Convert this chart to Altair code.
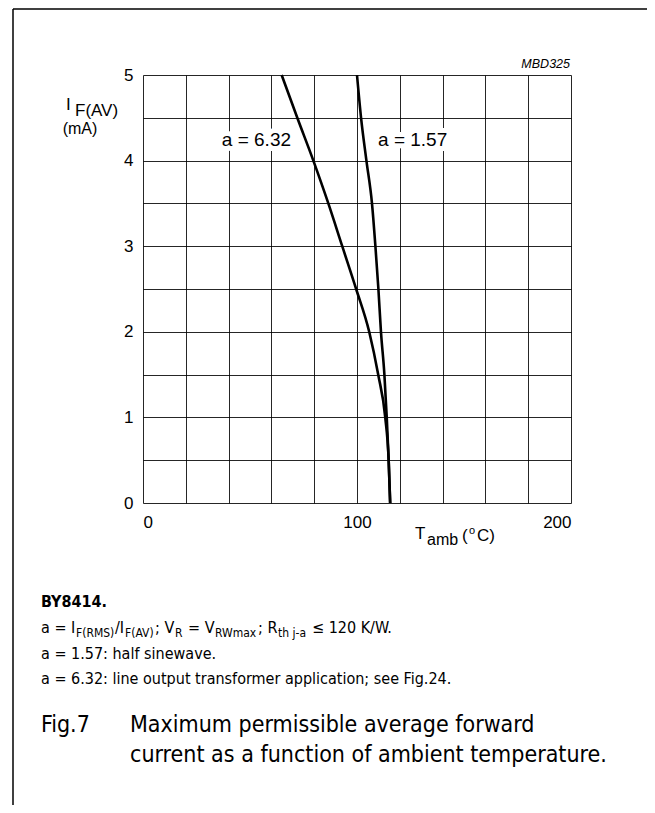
import altair as alt
import pandas as pd

# ---- data ----
current_ma = [5, 4.5, 4, 3.5, 3, 2.5, 2, 1.5, 1, 0.5, 0]
tamb_a157 = [100, 101.9, 104.4, 107, 108.6, 110, 111.2, 112.8, 113.9, 114.8, 115.5]
tamb_a632 = [64.8, 72.1, 79.6, 86.6, 93.1, 99.6, 105.7, 109.9, 113.2, 114.8, 115.5]
series_names = ["a = 1.57", "a = 6.32"]
label_pos_t = [126, 53]
label_pos_i = [4.24, 4.24]
x_grid = [0, 20, 40, 60, 80, 100, 120, 140, 160, 180, 200]
y_grid = [0, 0.5, 1, 1.5, 2, 2.5, 3, 3.5, 4, 4.5, 5]

rows = []
for name, ts in zip(series_names, [tamb_a157, tamb_a632]):
    for t, i in zip(ts, current_ma):
        rows.append({"series": name, "t": t, "i": i})
curves = pd.DataFrame(rows)
labels = pd.DataFrame({"series": series_names, "t": label_pos_t, "i": label_pos_i})

W, H = 428, 428
OX, OY = 143, 75  # page position of plot origin
SANS = "Liberation Sans, Arial, Helvetica, sans-serif"
NARROW = "DejaVu Sans Condensed, Liberation Sans Narrow, Arial Narrow, sans-serif"
one = pd.DataFrame({"k": [0]})

xs = alt.Scale(domain=[0, 200], nice=False, zero=False)
ys = alt.Scale(domain=[0, 5], nice=False, zero=False)

base = alt.Chart(curves).encode(
    x=alt.X("t:Q", scale=xs, title=None,
            axis=alt.Axis(values=x_grid, grid=True, gridColor="#000", gridWidth=1, gridOpacity=0.85,
                          ticks=False, domain=False, labelFont=SANS, labelFontSize=17,
                          labelColor="#000", labelPadding=11,
                          labelExpr="datum.value % 100 == 0 ? '' + datum.value : ''")),
    y=alt.Y("i:Q", scale=ys, title=None,
            axis=alt.Axis(values=y_grid, grid=True, gridColor="#000", gridWidth=1, gridOpacity=0.85,
                          ticks=False, domain=False, labelFont=SANS, labelFontSize=17,
                          labelColor="#000", labelPadding=10,
                          labelExpr="datum.value % 1 == 0 ? '' + datum.value : ''")),
)

lines = base.mark_line(color="#000", strokeWidth=2.6, interpolate="monotone").encode(
    detail="series:N")

halo = alt.Chart(labels).mark_text(font=SANS, fontSize=19, stroke="white", strokeWidth=10,
                                   fill="white", baseline="middle").encode(
    x=alt.X("t:Q", scale=xs), y=alt.Y("i:Q", scale=ys), text="series:N")
lab = alt.Chart(labels).mark_text(font=SANS, fontSize=19, color="#000", baseline="middle").encode(
    x=alt.X("t:Q", scale=xs), y=alt.Y("i:Q", scale=ys), text="series:N")


def txt(s, px, py, size=17, align="left", weight="normal", style="normal", font=SANS):
    return alt.Chart(one).mark_text(text=s, font=font, fontSize=size, align=align,
                                    baseline="alphabetic", fontWeight=weight,
                                    fontStyle=style, color="#000").encode(
        x=alt.value(px - OX), y=alt.value(py - OY))


def rule(x1, y1, x2, y2, w=1.5):
    return alt.Chart(one).mark_rule(color="#000", strokeWidth=w).encode(
        x=alt.value(x1 - OX), x2=alt.value(x2 - OX),
        y=alt.value(y1 - OY), y2=alt.value(y2 - OY))


B = 16     # body text size
S = 12     # subscript size
X0 = 41
L1, L2, L3, L4 = 607, 633, 659, 684
F1, F2 = 732, 762
texts = [
    txt("MBD325", 570, 68, size=12.5, align="right", style="italic"),
    txt("I", 66, 110),
    txt("F(AV)", 75, 116),
    txt("(mA)", 80, 134, size=16, align="center"),
    txt("T", 415, 539),
    txt("amb", 427, 545, size=16),
    txt("(", 462, 541),
    txt("o", 469, 534, size=11),
    txt("C)", 477, 541),
    txt("BY8414.", X0, L1, size=B, weight="bold", font=NARROW),
    # formula line
    txt("a = I", X0, L2, size=B, font=NARROW),
    txt("F(RMS)", 76, L2 + 4, size=S, font=NARROW),
    txt("/I", 115, L2, size=B, font=NARROW),
    txt("F(AV)", 125, L2 + 4, size=S, font=NARROW),
    txt("; V", 155, L2, size=B, font=NARROW),
    txt("R", 175, L2 + 4, size=S, font=NARROW),
    txt("= V", 188, L2, size=B, font=NARROW),
    txt("RWmax", 215, L2 + 4, size=S, font=NARROW),
    txt("; R", 258, L2, size=B, font=NARROW),
    txt("th j-a", 278, L2 + 4, size=S, font=NARROW),
    txt("\u2264 120 K/W.", 312, L2, size=B, font=NARROW),
    txt("a = 1.57: half sinewave.", X0, L3, size=B, font=NARROW),
    txt("a = 6.32: line output transformer application; see Fig.24.", X0, L4, size=B, font=NARROW),
    txt("Fig.7", X0, F1, size=23, font=NARROW),
    txt("Maximum permissible average forward", 130, F1, size=23, font=NARROW),
    txt("current as a function of ambient temperature.", 130, F2, size=23, font=NARROW),
]

frame = [
    rule(13, 9, 652, 9),
    rule(13, 9, 13, 813),
    rule(652, 9, 652, 813),
]

chart = alt.layer(lines, halo, lab, *texts, *frame).properties(
    width=W, height=H,
    autosize=alt.AutoSizeParams(type="none"),
    padding={"left": OX - 8, "top": OY - 8, "right": 639 - (OX - 8) - W, "bottom": 797 - (OY - 8) - H},
).configure_view(stroke=None)

chart.save("out.html", embed_options={"renderer": "svg", "actions": False})
